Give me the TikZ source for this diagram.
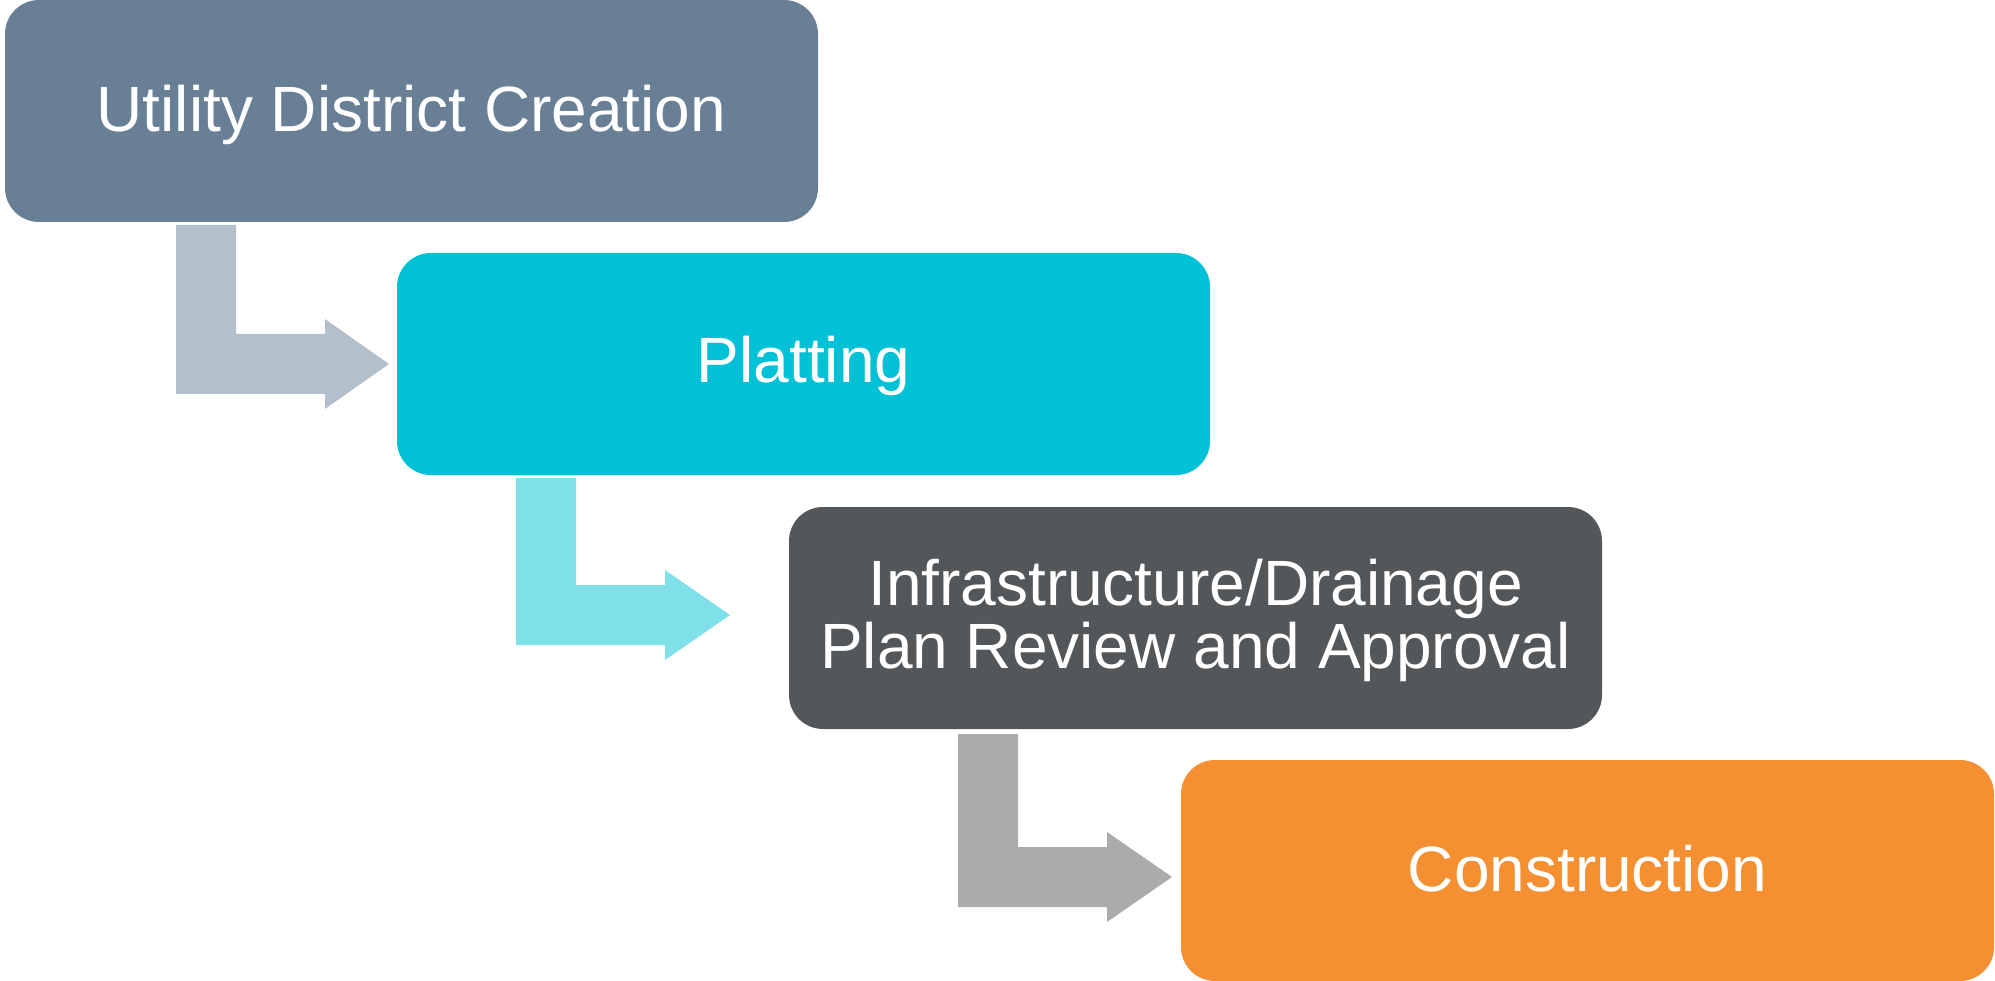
\documentclass[tikz,border=0pt]{standalone}
\usepackage{fontspec}
\setmainfont{Liberation Sans}
\definecolor{boxA}{HTML}{687F96}
\definecolor{arrA}{HTML}{B3BFCB}
\definecolor{boxB}{HTML}{00C1D5}
\definecolor{arrB}{HTML}{7FE0EA}
\definecolor{boxC}{HTML}{53575A}
\definecolor{arrC}{HTML}{ABABAB}
\definecolor{boxD}{HTML}{F59032}
\tikzset{
  stagebox/.style={rectangle, rounded corners=34pt, draw=none, inner sep=0pt, minimum width=813pt, minimum height=222pt},
  stagetext/.style={anchor=base, inner sep=0pt, text=white, font=\fontsize{64}{63}\selectfont, align=center},
  bentarrow/.style={draw=none}
}
\begin{document}
\begin{tikzpicture}[x=1pt,y=-1pt]
\useasboundingbox (0,0) rectangle (1995,981);
% boxes
\node[stagebox, fill=boxA] (b1) at (411.5,111) {};
\node[stagebox, fill=boxB] (b2) at (803.5,364) {};
\node[stagebox, fill=boxC] (b3) at (1195.5,618) {};
\node[stagebox, fill=boxD, minimum height=221pt] (b4) at (1587.5,870.5) {};
% texts
\node[stagetext] (t1) at (411.5,132) {Utility District Creation};
\node[stagetext] (t2) at (803.5,383) {Platting};
\node[stagetext] (t3a) at (1195.5,605) {Infrastructure/Drainage};
\node[stagetext] (t3b) at (1195.5,668) {Plan Review and Approval};
\node[stagetext] (t4) at (1587.5,891) {Construction};
% bent arrows
\fill[arrA] (176,225) -- (236,225) -- (236,334) -- (325,334) -- (325,319) -- (389,364) -- (325,409) -- (325,394) -- (176,394) -- cycle;
\fill[arrB] (516,478) -- (576,478) -- (576,585) -- (665,585) -- (665,570) -- (730,615) -- (665,660) -- (665,645) -- (516,645) -- cycle;
\fill[arrC] (958,734) -- (1018,734) -- (1018,847) -- (1107,847) -- (1107,832) -- (1172,877) -- (1107,922) -- (1107,907) -- (958,907) -- cycle;
\end{tikzpicture}
\end{document}
